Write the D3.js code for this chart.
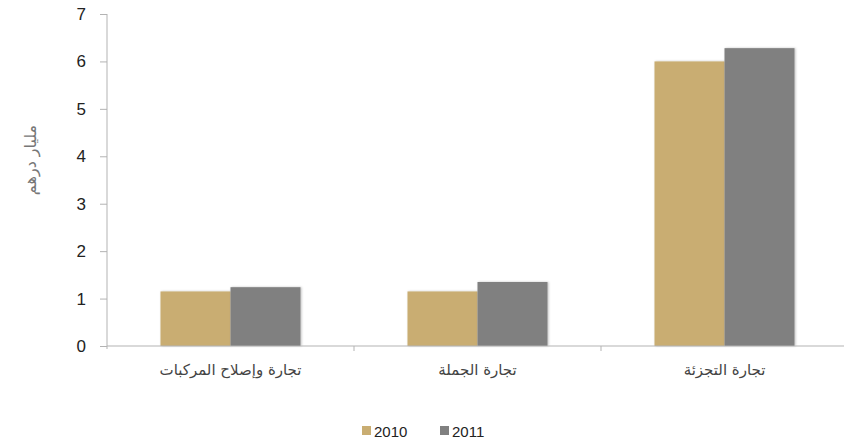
<!DOCTYPE html>
<html><head><meta charset="utf-8">
<script src="https://cdn.jsdelivr.net/npm/d3@7"></script>
<style>
html,body{margin:0;padding:0;background:#fff;}
svg{display:block;}
</style></head>
<body>
<svg id="chart" width="844" height="442"></svg>
<script>
const categories = ["تجارة وإصلاح المركبات", "تجارة الجملة", "تجارة التجزئة"];
const seriesNames = ["2010", "2011"];
const values2010 = [1.15, 1.15, 6.0];
const values2011 = [1.24, 1.35, 6.28];
const yTicks = [0, 1, 2, 3, 4, 5, 6, 7];
const yTitle = "مليار درهم";
const colors = ["#c9ad72", "#808080"];

(function () {
const svg = d3.select("#chart");
const mLeft = 107, mRight = 848, mTop = 14, mBottom = 346;

const x0 = d3.scaleBand().domain(categories).range([mLeft, mRight]).paddingInner(0).paddingOuter(0);
const x1 = d3.scaleBand().domain(seriesNames).range([0, x0.bandwidth()]).paddingInner(0).paddingOuter(0.764);
const y = d3.scaleLinear().domain([0, 7]).range([mBottom, mTop]);
const color = d3.scaleOrdinal().domain(seriesNames).range(colors);

const data = categories.map((c, i) => ({cat: c, vals: [values2010[i], values2011[i]]}));

const defs = svg.append("defs");
const f = defs.append("filter").attr("id", "sh").attr("x", "-10%").attr("y", "-10%").attr("width", "130%").attr("height", "130%");
f.append("feDropShadow").attr("dx", 1).attr("dy", 0).attr("stdDeviation", 1).attr("flood-color", "#000").attr("flood-opacity", 0.25);

// bars
const g = svg.append("g");
data.forEach(d => {
  seriesNames.forEach((s, j) => {
    g.append("rect")
      .attr("x", x0(d.cat) + x1(s))
      .attr("y", y(d.vals[j]))
      .attr("width", x1.bandwidth())
      .attr("height", y(0) - y(d.vals[j]))
      .attr("fill", color(s))
      .attr("filter", "url(#sh)");
  });
});

// y axis
const yAxis = d3.axisLeft(y).tickValues(yTicks).tickSize(7).tickPadding(14).tickFormat(d3.format("d"));
const ya = svg.append("g").attr("transform", `translate(${mLeft},0)`).call(yAxis);
ya.select(".domain").attr("stroke", "#b3b3b3").attr("d", `M0,${mTop}V${mBottom + 3}`);
ya.selectAll(".tick line").attr("stroke", "#b3b3b3");
ya.selectAll(".tick text").attr("fill", "#222").style("font-family", "'Liberation Sans', Arial, sans-serif").style("font-size", "17px");

// x axis
const xAxis = d3.axisBottom(x0).tickSize(0).tickPadding(0);
const xa = svg.append("g").attr("transform", `translate(0,${mBottom})`).call(xAxis);
xa.select(".domain").attr("stroke", "#b3b3b3").attr("d", `M${mLeft},0H${mRight}`);
xa.selectAll(".tick text").attr("fill", "#444").attr("dy", 0).attr("y", 29)
  .style("font-family", "'DejaVu Sans', sans-serif").style("font-size", "15px").style("font-weight", "normal");
// category separator ticks
xa.selectAll(".sep").data(categories.slice(1)).enter().append("line")
  .attr("x1", d => x0(d)).attr("x2", d => x0(d)).attr("y1", 0).attr("y2", 5).attr("stroke", "#b3b3b3");

// y title
svg.append("text").attr("transform", `translate(36,160) rotate(-90)`)
  .attr("text-anchor", "middle").attr("fill", "#777")
  .style("font-family", "'DejaVu Sans', sans-serif").style("font-size", "16px")
  .text(yTitle);

// legend
const legend = svg.append("g");
const legendX = [362, 440];
seriesNames.forEach((s, i) => {
  legend.append("rect").attr("x", legendX[i]).attr("y", 426).attr("width", 9).attr("height", 9).attr("fill", color(s));
  legend.append("text").attr("x", legendX[i] + 12).attr("y", 437).attr("fill", "#222")
    .style("font-family", "'Liberation Sans', Arial, sans-serif").style("font-size", "15px").text(s);
});
})();
</script>
</body></html>
